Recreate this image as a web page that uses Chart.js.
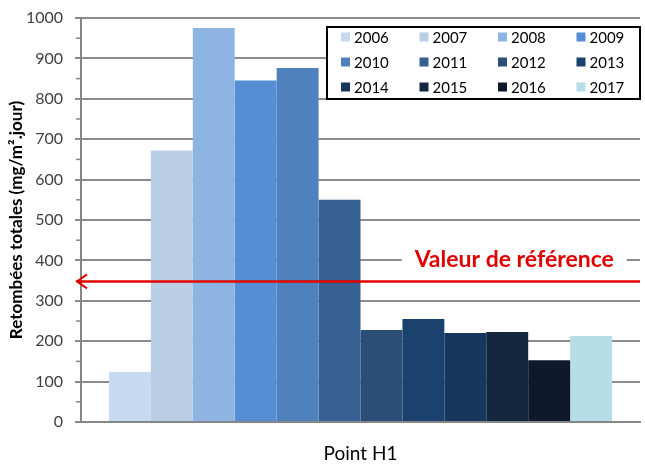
<!DOCTYPE html>
<html>
<head>
<meta charset="utf-8">
<script src="https://cdn.jsdelivr.net/npm/chart.js@4/dist/chart.umd.min.js"></script>
<style>
  html, body { margin: 0; padding: 0; background: #fff; }
  #wrap { width: 645px; height: 466px; }
</style>
</head>
<body>
<div id="wrap"><canvas id="retombees"></canvas></div>
<script>
// data
const categories = ['Point H1'];
const years = ['2006', '2007', '2008', '2009', '2010', '2011', '2012', '2013', '2014', '2015', '2016', '2017'];
const values = [124, 672, 975, 845, 876, 550, 228, 255, 220, 223, 153, 213];
const colors = ['#C6D9F1', '#B9CDE5', '#8EB4E3', '#558ED5', '#4F81BD', '#376092',
  '#2C4D75', '#1B426E', '#17375E', '#14273F', '#0E1A2B', '#B7DEE8'];
const yTicks = { min: 0, max: 1000, step: 100 };
const refValue = 348;
const refLabel = 'Valeur de référence';

const FONT = 'Lato, "Open Sans", sans-serif';

// minor ticks, reference arrow and the boxed legend
const extras = {
  id: 'extras',
  afterDraw(chart) {
    const ctx = chart.ctx;
    const y = chart.scales.y;
    const area = chart.chartArea;
    ctx.save();

    // minor tick marks on the y axis
    ctx.strokeStyle = '#868686';
    ctx.lineWidth = 1.5;
    for (let v = yTicks.min + yTicks.step / 2; v < yTicks.max; v += yTicks.step) {
      const py = y.getPixelForValue(v);
      ctx.beginPath();
      ctx.moveTo(area.left - 5, py);
      ctx.lineTo(area.left, py);
      ctx.stroke();
    }

    // reference label over the 400 gridline
    ctx.font = 'bold 23px ' + FONT;
    ctx.textAlign = 'center';
    ctx.textBaseline = 'middle';
    const ty = y.getPixelForValue(400) - 1;
    const tx = area.left + (area.right - area.left) * 0.775;
    const tw = ctx.measureText(refLabel).width;
    ctx.fillStyle = '#fff';
    ctx.fillRect(tx - tw / 2 - 13, ty - 11, tw + 26, 22);
    ctx.fillStyle = '#E00000';
    ctx.fillText(refLabel, tx, ty);

    // reference arrow
    const ry = y.getPixelForValue(refValue);
    const x0 = area.left - 4;
    ctx.strokeStyle = '#E00000';
    ctx.lineWidth = 2.5;
    ctx.beginPath();
    ctx.moveTo(area.right, ry);
    ctx.lineTo(x0, ry);
    ctx.stroke();
    ctx.lineWidth = 2;
    ctx.beginPath();
    ctx.moveTo(x0 + 10, ry - 7);
    ctx.lineTo(x0, ry);
    ctx.lineTo(x0 + 10, ry + 7);
    ctx.stroke();

    // legend box
    const lx = 327, ly = 27, lw = 313, lh = 72;
    ctx.fillStyle = '#fff';
    ctx.fillRect(lx, ly, lw, lh);
    ctx.strokeStyle = '#000';
    ctx.lineWidth = 2;
    ctx.strokeRect(lx, ly, lw, lh);
    ctx.font = '15px ' + FONT;
    ctx.textAlign = 'left';
    chart.data.datasets.forEach((ds, i) => {
      const col = i % 4, row = Math.floor(i / 4);
      const sx = lx + 14 + col * 78.5;
      const sy = ly + 10 + row * 25;
      ctx.fillStyle = ds.backgroundColor;
      ctx.fillRect(sx, sy - 4.5, 9, 9);
      ctx.fillStyle = '#000';
      ctx.fillText(ds.label, sx + 13, sy + 1);
    });
    ctx.restore();
  }
};

new Chart(document.getElementById('retombees'), {
  type: 'bar',
  data: {
    labels: categories,
    datasets: years.map((yr, i) => ({
      label: yr,
      data: [values[i]],
      backgroundColor: colors[i],
      borderWidth: 0,
      categoryPercentage: 0.9,
      barPercentage: 1.0
    }))
  },
  options: {
    responsive: true,
    maintainAspectRatio: false,
    animation: false,
    layout: { padding: { top: 18, right: 5, left: 0, bottom: 0 } },
    plugins: {
      legend: { display: false },
      tooltip: { enabled: false }
    },
    scales: {
      x: {
        grid: { display: false },
        border: { color: '#868686', width: 2 },
        ticks: { color: '#000', font: { family: FONT, size: 19 }, padding: 12 },
        afterFit: (s) => { s.height = 44; }
      },
      y: {
        min: yTicks.min,
        max: yTicks.max,
        ticks: {
          stepSize: yTicks.step,
          color: '#404040',
          font: { family: FONT, size: 16 },
          padding: 12,
          callback: (v) => String(v)
        },
        grid: { color: '#8C8C8C', lineWidth: 2, tickLength: 6 },
        border: { color: '#868686', width: 2 },
        title: {
          display: true,
          text: 'Retombées totales (mg/m².jour)',
          color: '#000',
          font: { family: FONT, size: 17, weight: 'bold' },
          padding: { top: 6, bottom: 0 }
        },
        afterFit: (s) => { s.width = 81; s.paddingTop = 0; s.paddingBottom = 0; }
      }
    }
  },
  plugins: [extras]
});
</script>
</body>
</html>
